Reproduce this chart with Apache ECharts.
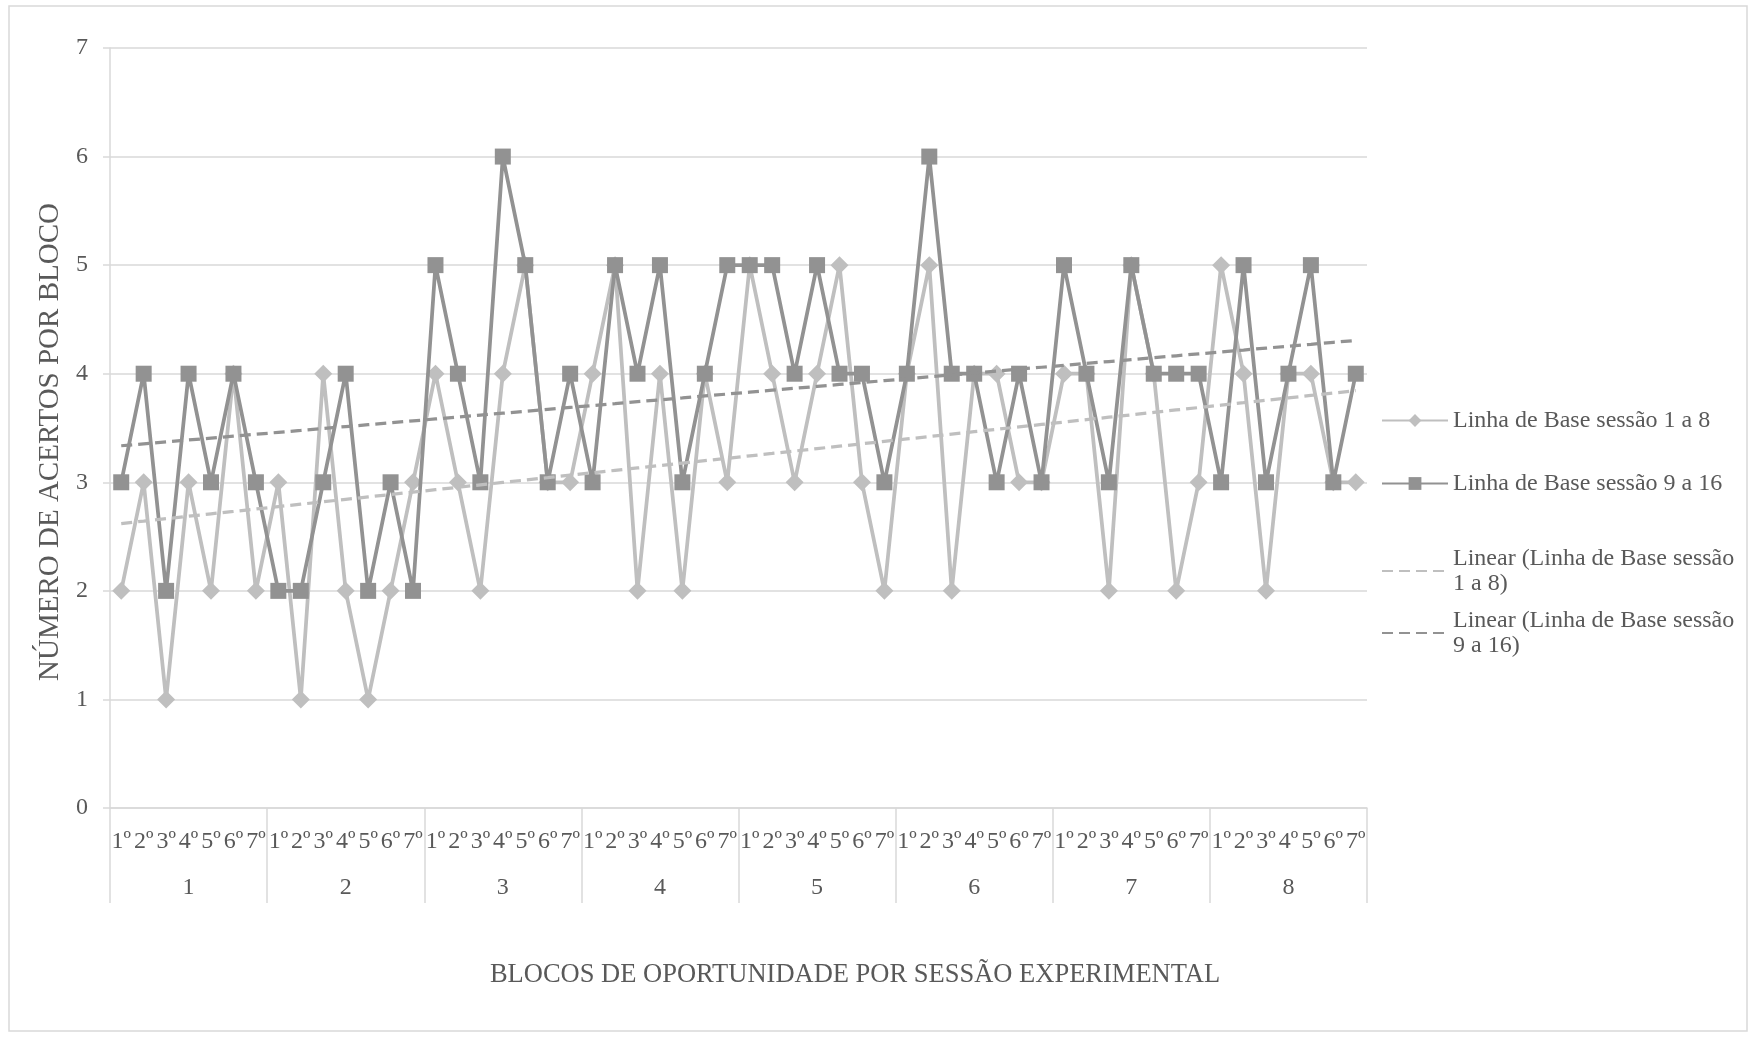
<!DOCTYPE html>
<html>
<head>
<meta charset="utf-8">
<script src="https://cdn.jsdelivr.net/npm/echarts@6/dist/echarts.min.js"></script>
<style>
html,body{margin:0;padding:0;background:#fff;}
#chart{width:1761px;height:1038px;}
</style>
</head>
<body>
<div id="chart"></div>
<script>
var blockLabels = ['1º','2º','3º','4º','5º','6º','7º'];
var sessions = ['1','2','3','4','5','6','7','8'];
var seriesNameA = 'Linha de Base sessão 1 a 8';
var seriesNameB = 'Linha de Base sessão 9 a 16';
var trendNameA = 'Linear (Linha de Base sessão 1 a 8)';
var trendNameB = 'Linear (Linha de Base sessão 9 a 16)';

var baseA = [
  2,3,1,3,2,4,2,
  3,1,4,2,1,2,3,
  4,3,2,4,5,3,3,
  4,5,2,4,2,4,3,
  5,4,3,4,5,3,2,
  4,5,2,4,4,3,3,
  4,4,2,5,4,2,3,
  5,4,2,4,4,3,3
];
var baseB = [
  3,4,2,4,3,4,3,
  2,2,3,4,2,3,2,
  5,4,3,6,5,3,4,
  3,5,4,5,3,4,5,
  5,5,4,5,4,4,3,
  4,6,4,4,3,4,3,
  5,4,3,5,4,4,4,
  3,5,3,4,5,3,4
];

var categories = [];
sessions.forEach(function(s){ blockLabels.forEach(function(b){ categories.push(s + '-' + b); }); });

function linearFit(arr){
  var n = arr.length, sx=0, sy=0, sxy=0, sxx=0;
  for (var i=0;i<n;i++){ var x=i+1; sx+=x; sy+=arr[i]; sxy+=x*arr[i]; sxx+=x*x; }
  var m = (n*sxy - sx*sy)/(n*sxx - sx*sx);
  var b = (sy - m*sx)/n;
  return arr.map(function(_,i){ return +(m*(i+1)+b).toFixed(4); });
}
var trendA = linearFit(baseA);
var trendB = linearFit(baseB);

var FONT = 'Liberation Serif';
var TXT = '#595959';
var GRIDC = '#D9D9D9';
var LIGHT = '#BFBFBF';
var DARK = '#929292';

var chart = echarts.init(document.getElementById('chart'), null, {renderer:'canvas'});

function legendItem(name, top, formatterText, hideSymbol){
  var l = {
    data:[name], orient:'vertical', left:1376, top:top,
    itemWidth:66, itemHeight:16, itemGap:0,
    selectedMode:false,
    textStyle:{fontFamily:FONT, fontSize:24, color:TXT, lineHeight:25},
    formatter: function(){ return formatterText; }
  };
  if (hideSymbol) { l.itemStyle = {color:'transparent', borderColor:'transparent', borderWidth:0}; }
  return l;
}

chart.setOption({
  animation:false,
  backgroundColor:'#ffffff',
  grid:{left:110, right:394, top:48, bottom:230},
  legend:[
    legendItem(seriesNameA, 403, seriesNameA, false),
    legendItem(seriesNameB, 466, seriesNameB, false),
    legendItem(trendNameA, 541, 'Linear (Linha de Base sessão\n1 a 8)', true),
    legendItem(trendNameB, 603, 'Linear (Linha de Base sessão\n9 a 16)', true)
  ],
  xAxis:[
    {
      type:'category', data:categories, boundaryGap:true, position:'bottom',
      axisLine:{show:true, lineStyle:{color:GRIDC, width:1.5}},
      axisTick:{show:false},
      axisLabel:{interval:0, margin:22, fontFamily:FONT, fontSize:24, color:TXT,
        formatter:function(v){ return v.split('-')[1]; }},
      splitLine:{show:false}
    },
    {
      type:'category', data:sessions, boundaryGap:true, position:'bottom',
      axisLine:{show:false},
      axisTick:{show:true, length:95, inside:false, interval:0, lineStyle:{color:GRIDC, width:1.5}},
      axisLabel:{interval:0, margin:68, fontFamily:FONT, fontSize:24, color:TXT},
      splitLine:{show:false}
    }
  ],
  yAxis:{
    type:'value', min:0, max:7, interval:1,
    axisLine:{show:true, lineStyle:{color:GRIDC, width:1.5}},
    axisTick:{show:true, length:7, lineStyle:{color:GRIDC, width:1.5}},
    axisLabel:{margin:22, fontFamily:FONT, fontSize:24, color:TXT},
    splitLine:{show:true, lineStyle:{color:GRIDC, width:1.5}}
  },
  graphic:[
    {type:'rect', shape:{x:9, y:6, width:1738, height:1025}, style:{fill:null, stroke:GRIDC, lineWidth:1.5}, silent:true, z:-1},
    {type:'text', x:855, y:975, style:{text:'BLOCOS DE OPORTUNIDADE POR SESSÃO EXPERIMENTAL', fontFamily:FONT, fontSize:26.5, fill:TXT, textAlign:'center', textVerticalAlign:'middle'}},
    {type:'text', x:50, y:442, rotation:Math.PI/2, style:{text:'NÚMERO DE ACERTOS POR BLOCO', fontFamily:FONT, fontSize:29, fill:TXT, textAlign:'center', textVerticalAlign:'middle'}}
  ],
  series:[
    {name:seriesNameA, type:'line', data:baseA, symbol:'diamond', symbolSize:18,
      itemStyle:{color:LIGHT}, lineStyle:{color:LIGHT, width:3.75}, z:2},
    {name:seriesNameB, type:'line', data:baseB, symbol:'rect', symbolSize:16,
      itemStyle:{color:DARK}, lineStyle:{color:DARK, width:3.75}, z:3},
    {name:trendNameA, type:'line', data:trendA, symbol:'none', showSymbol:false,
      itemStyle:{color:LIGHT}, lineStyle:{color:LIGHT, width:3.25, type:[11,6]}, z:4},
    {name:trendNameB, type:'line', data:trendB, symbol:'none', showSymbol:false,
      itemStyle:{color:DARK}, lineStyle:{color:DARK, width:3.25, type:[11,6]}, z:5}
  ]
});
</script>
</body>
</html>
